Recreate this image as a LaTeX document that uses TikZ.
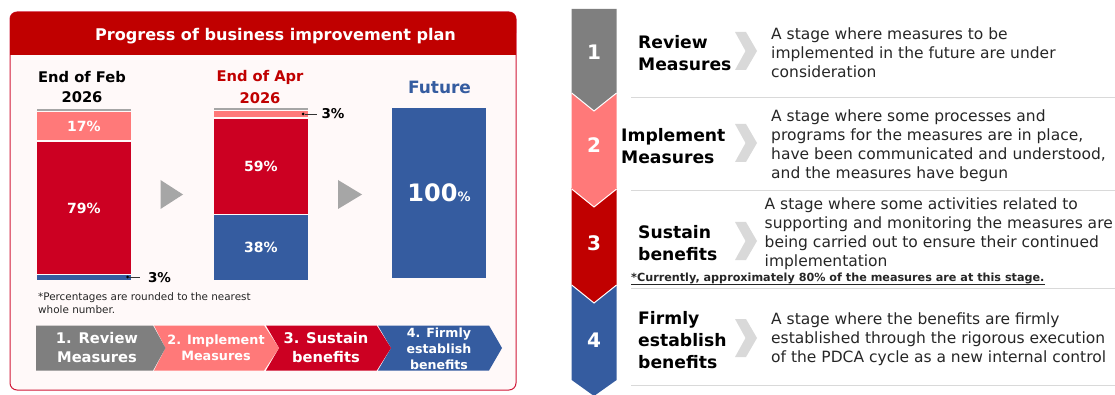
\documentclass[tikz,border=0pt]{standalone}
\usepackage{fontspec}
\setmainfont{DejaVu Sans}
\definecolor{hdr}{HTML}{C00000}
\definecolor{barred}{HTML}{CC0022}
\definecolor{pink}{HTML}{FF7979}
\definecolor{navy}{HTML}{355CA0}
\definecolor{gry}{HTML}{7F7F7F}
\definecolor{lgry}{HTML}{A6A6A6}
\definecolor{chev}{HTML}{D9D9D9}
\definecolor{panelbg}{HTML}{FFF9F9}
\definecolor{rulec}{HTML}{D9D9D9}
\definecolor{bodyc}{HTML}{262626}
\newcommand{\fs}[2]{\fontsize{#1}{#2}\selectfont}
\tikzset{
  x=1pt,y=-1pt,
  segbar/.style={draw=none,inner sep=0,outer sep=0,minimum width=94pt,text=white,font=\fs{14}{15}\bfseries},
  head/.style={align=center,inner sep=0,font=\fs{14.7}{20}\bfseries},
  pct/.style={inner sep=0,font=\fs{13.5}{15}\bfseries,text=black},
  lead/.style={draw=black!80,line width=0.7pt},
  dotc/.style={fill=black,circle,inner sep=0,minimum size=3pt},
  tag/.style={align=center,inner sep=0,text=white,font=\fs{14.7}{19}\bfseries},
  stage/.style={anchor=west,align=left,inner sep=0,text=black,font=\fs{17.2}{22}\bfseries},
  desc/.style={anchor=west,align=left,inner sep=0,text=bodyc,font=\fs{15.5}{19}},
  num/.style={inner sep=0,text=white,font=\fs{20}{24}\bfseries},
  sep/.style={draw=rulec,line width=1pt},
}
\begin{document}
\begin{tikzpicture}
\useasboundingbox (0,0) rectangle (1115,395);
% panel
\draw[draw=barred!90!white,fill=panelbg,line width=1pt,rounded corners=7pt] (10,12) rectangle (516,390);
\fill[hdr,rounded corners=7pt] (10,12) rectangle (516,40);
\fill[hdr] (10,30) rectangle (516,55);
\node[inner sep=0,text=white,font=\fs{16.1}{18}\bfseries] (title) at (275.5,36) {Progress of business improvement plan};
% column headings
\node[head,text=black] (h1) at (82,87) {End of Feb\\2026};
\node[head,text=hdr,font=\fs{14.7}{22}\bfseries] (h2) at (260,87) {End of Apr\\2026};
\node[head,text=navy,font=\fs{17}{20}\bfseries] (h3) at (439.5,87) {Future};
% bar 1
\fill[lgry] (37,109) rectangle (131,111);
\node[segbar,fill=pink,minimum height=28pt] (b1p) at (84,126.5) {17\%};
\node[segbar,fill=barred,minimum height=132pt] (b1r) at (84,208) {79\%};
\node[segbar,fill=navy,minimum height=5.5pt] (b1b) at (84,277.5) {};
% bar 2
\fill[lgry] (214,108) rectangle (308,110);
\node[segbar,fill=pink,minimum height=6pt] (b2p) at (261,114) {};
\node[segbar,fill=barred,minimum height=95.5pt] (b2r) at (261,166.7) {59\%};
\node[segbar,fill=navy,minimum height=64pt] (b2b) at (261,247.5) {38\%};
% bar 3
\node[segbar,fill=navy,minimum height=170pt,font=\fs{24}{28}\bfseries] (b3) at (439,193) {100{\fs{13}{14}\%}};
% arrows between bars
\fill[lgry] (160.5,180) -- (183,194.5) -- (160.5,209) -- cycle;
\fill[lgry] (338,180) -- (362,194.5) -- (338,209) -- cycle;
% leaders
\node[pct] (p1) at (159.5,277.5) {3\%};
\node[pct] (p2) at (333,114) {3\%};
\node[dotc] (d1) at (127.7,277) {};
\node[dotc] (d2) at (303,114) {};
\coordinate (e1) at (140,277);
\coordinate (e2) at (317,114);
\draw[lead] (d1) -- (e1);
\draw[lead] (d2) -- (e2);
% note
\node[anchor=north west,align=left,inner sep=0,text=bodyc,font=\fs{10.4}{13}] (note) at (38,292) {*Percentages are rounded to the nearest\\whole number.};
% bottom chevrons
\fill[navy] (378,325.5) -- (489,325.5) -- (502,348) -- (489,370.5) -- (378,370.5) -- (391,348) -- cycle;
\fill[barred] (266,325.5) -- (376.7,325.5) -- (391,348) -- (376.7,370.5) -- (266,370.5) -- (279,348) -- cycle;
\fill[pink] (154,325.5) -- (264,325.5) -- (279,348) -- (264,370.5) -- (154,370.5) -- (165.5,348) -- cycle;
\fill[gry] (36,325.5) -- (153,325.5) -- (165.5,348) -- (153,370.5) -- (36,370.5) -- cycle;
\node[tag] (c1) at (97,348) {1. Review\\Measures};
\node[tag,font=\fs{12.8}{16}\bfseries] (c2) at (216,348) {2. Implement\\Measures};
\node[tag] (c3) at (326,348) {3. Sustain\\benefits};
\node[tag,font=\fs{12.6}{16}\bfseries] (c4) at (439,349) {4. Firmly\\establish\\benefits};
% right column
\fill[navy] (571.7,285) -- (594,303) -- (616.6,285) -- (616.6,380) -- (594,396) -- (571.7,380) -- cycle;
\fill[hdr] (571.7,188) -- (594,207) -- (616.6,188) -- (616.6,285) -- (594,303) -- (571.7,285) -- cycle;
\fill[pink] (571.7,93) -- (594,111) -- (616.6,93) -- (616.6,189) -- (594,207) -- (571.7,189) -- cycle;
\fill[gry] (571.7,9) -- (616.6,9) -- (616.6,93) -- (594,111) -- (571.7,93) -- cycle;
\draw[white,line width=1pt] (571.7,93) -- (594,111) -- (616.6,93);
\draw[white,line width=1pt] (571.7,189) -- (594,207) -- (616.6,189);
\draw[white,line width=1pt] (571.7,285) -- (594,303) -- (616.6,285);
\node[num] (n1) at (594,52) {1};
\node[num] (n2) at (594,145) {2};
\node[num] (n3) at (594,243) {3};
\node[num] (n4) at (594,340) {4};
% separators
\coordinate (s1a) at (631,98); \coordinate (s1b) at (1115,98);
\coordinate (s2a) at (631,190.5); \coordinate (s2b) at (1115,190.5);
\coordinate (s3a) at (631,288); \coordinate (s3b) at (1115,288);
\coordinate (s4a) at (631,385); \coordinate (s4b) at (1115,385);
\draw[sep] (s1a) -- (s1b);
\draw[sep] (s2a) -- (s2b);
\draw[sep] (s3a) -- (s3b);
\draw[sep] (s4a) -- (s4b);
% grey chevrons
\foreach \yy in {32,124,222,319}{
  \fill[chev] (735,\yy) -- (746,\yy) -- (757,\yy+19) -- (746,\yy+38) -- (735,\yy+38) -- (745.5,\yy+19) -- cycle;
}
% stage names
\node[stage] (t1) at (638,53) {Review\\Measures};
\node[stage] (t2) at (621,146) {Implement\\Measures};
\node[stage] (t3) at (638,243) {Sustain\\benefits};
\node[stage] (t4) at (638,340) {Firmly\\establish\\benefits};
% descriptions
\node[desc] (d1t) at (771,52.5) {A stage where measures to be\\implemented in the future are under\\consideration};
\node[desc] (d2t) at (771,146) {A stage where some processes and\\programs for the measures are in place,\\have been communicated and understood,\\and the measures have begun};
\node[desc] (d3t) at (764.5,233.5) {A stage where some activities related to\\supporting and monitoring the measures are\\being carried out to ensure their continued\\implementation};
\node[desc] (d4t) at (771,339) {A stage where the benefits are firmly\\established through the rigorous execution\\of the PDCA cycle as a new internal control};
\node[anchor=west,inner sep=0,text=bodyc,font=\fs{11.2}{13}\bfseries] (cur) at (631,278) {*Currently, approximately 80\% of the measures are at this stage.};
\draw[bodyc,line width=0.8pt] ([yshift=-0.5pt]cur.south west) -- ([yshift=-0.5pt]cur.south east);
\end{tikzpicture}
\end{document}
